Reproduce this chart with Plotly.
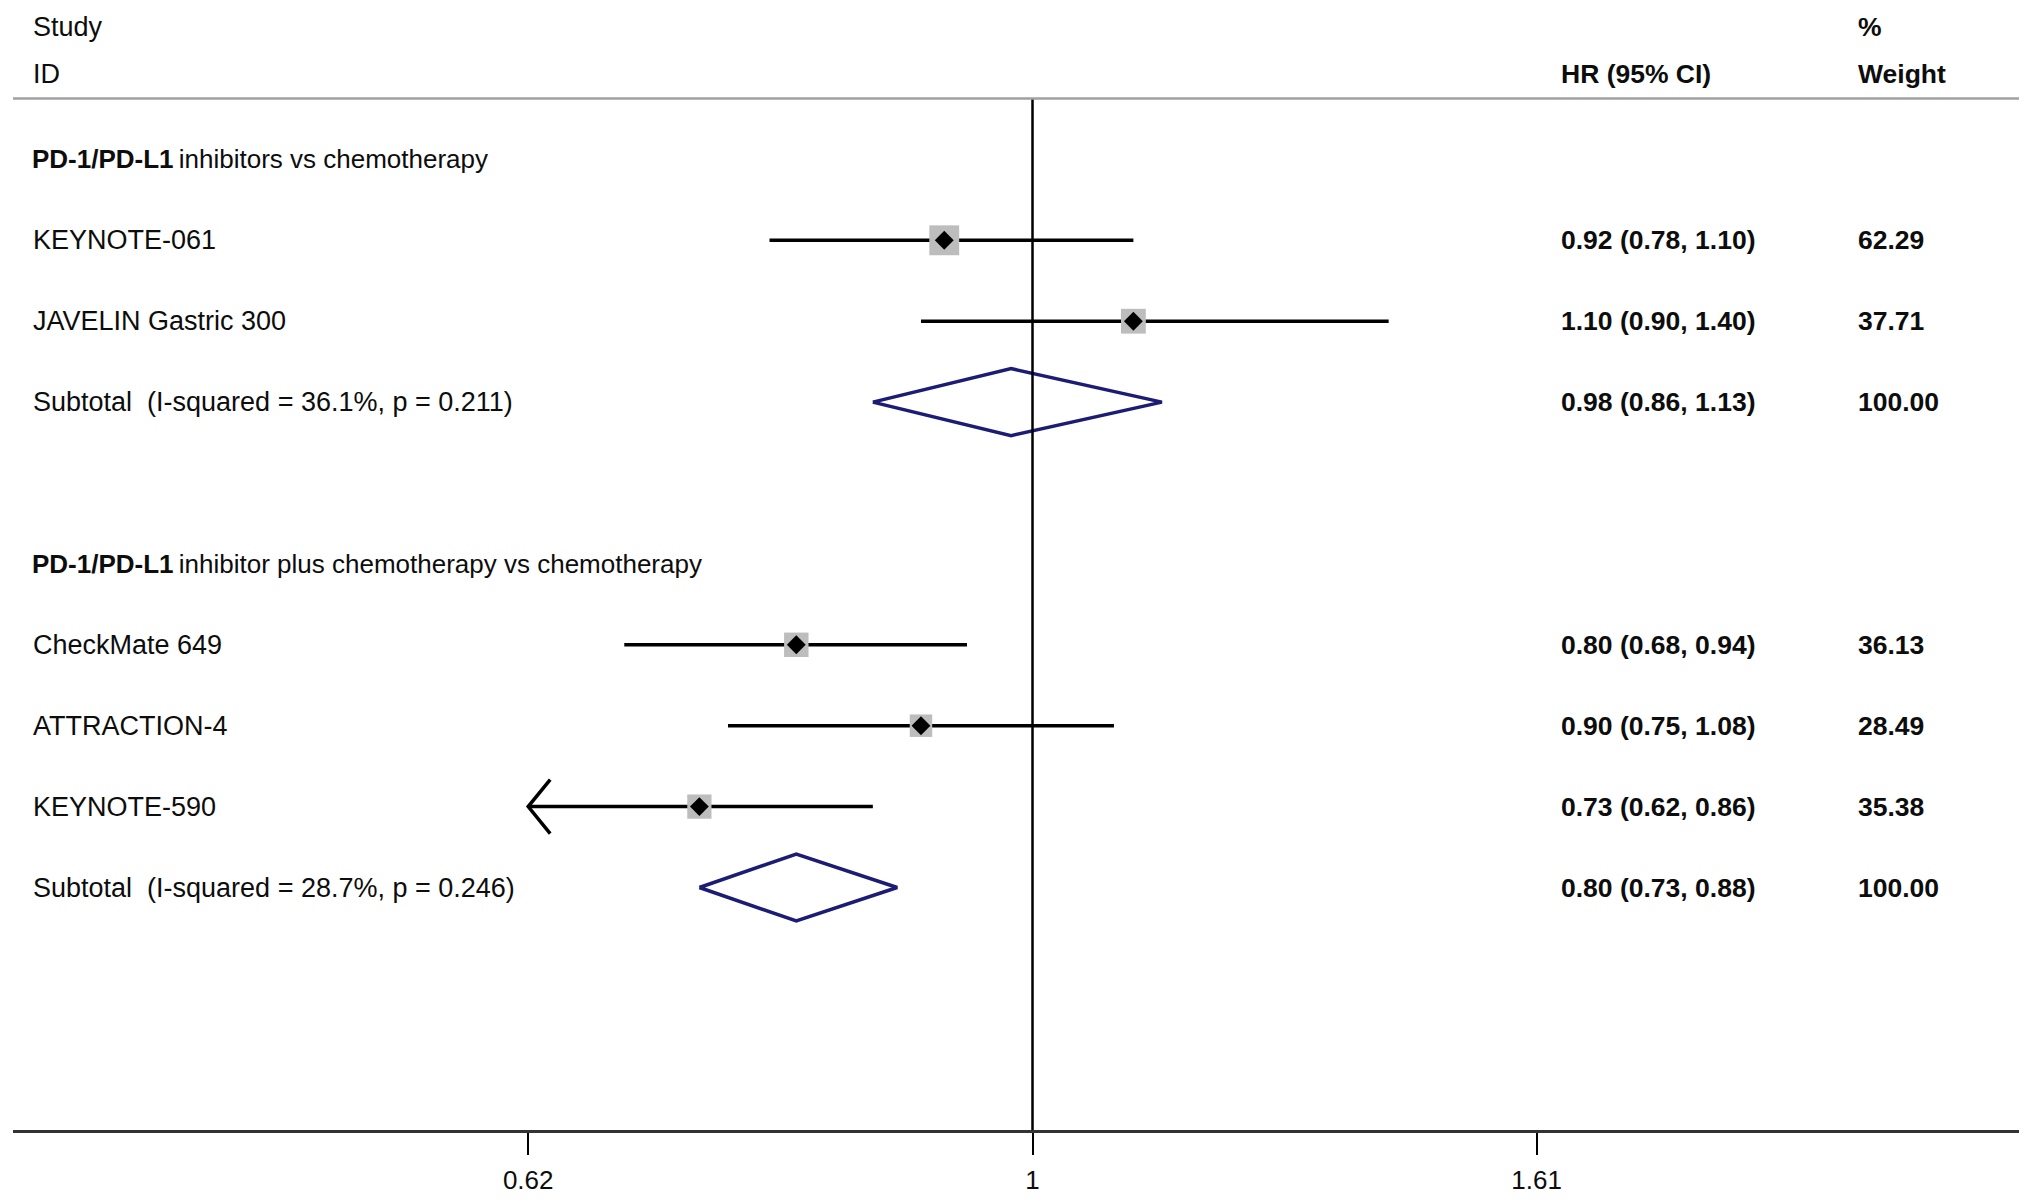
import math
import plotly.graph_objects as go

# ---------------- data ----------------
group_prefix = "PD-1/PD-L1"
group_titles = ["inhibitors vs chemotherapy", "inhibitor plus chemotherapy vs chemotherapy"]
studies = ["KEYNOTE-061", "JAVELIN Gastric 300", "CheckMate 649", "ATTRACTION-4", "KEYNOTE-590"]
study_group = [0, 0, 1, 1, 1]
hr = [0.92, 1.10, 0.80, 0.90, 0.73]
ci_low = [0.78, 0.90, 0.68, 0.75, 0.62]
ci_high = [1.10, 1.40, 0.94, 1.08, 0.86]
weight = [62.29, 37.71, 36.13, 28.49, 35.38]
sub_hr = [0.98, 0.80]
sub_low = [0.86, 0.73]
sub_high = [1.13, 0.88]
sub_i2 = [36.1, 28.7]
sub_p = [0.211, 0.246]
sub_weight = [100.00, 100.00]
tick_vals = [0.621, 1, 1.61]
tick_text = ["0.62", "1", "1.61"]

# ---------------- geometry (window pixels; the page body has an 8px margin) ----------------
OFF = 8
W, H = 2032 - 2 * OFF, 1204 - 2 * OFF
ML = 13 - OFF                 # plot left edge at window x 13
MR = W - (2019 - OFF)         # plot right edge at window x 2019
MT = 0
AXIS_Y = 1130 - OFF           # axis line at window y 1130
MB = H - AXIS_Y
PX_ONE = 1032.5 - OFF         # pixel of HR = 1
PX_PER_LN = 1058.5            # pixels per natural-log unit
ROW1_PX = 159.4 - OFF
ROW_H = 80.9
LN10 = math.log(10)
x_range = [(ML - PX_ONE) / PX_PER_LN / LN10, (W - MR - PX_ONE) / PX_PER_LN / LN10]
y_top = 1 - (ROW1_PX - MT) / ROW_H
y_bot = 1 + (AXIS_Y - ROW1_PX) / ROW_H
PW = W - ML - MR


def xp(px_window):
    return (px_window - OFF - ML) / PW


def yrow(py_window):
    return 1 + (py_window - OFF - ROW1_PX) / ROW_H


FONT = "Liberation Sans, Arial, sans-serif"
LABEL_SIZE = 27
NUM_SIZE = 26.5
HEAD_SIZE = 26
X_LABEL = 31
X_HR = 1559
X_W = 1856
NAVY = "#1c1c74"
TXT = "#0d0d0d"

fig = go.Figure()
ann = []


def text(x_px, y, s, size=LABEL_SIZE, bold=False):
    ann.append(dict(x=xp(x_px), xref="paper", y=y, yref="y", text=(f"<b>{s}</b>" if bold else s),
                    showarrow=False, xanchor="left", yanchor="middle",
                    font=dict(family=FONT, size=size, color=TXT)))


# header
text(X_LABEL, yrow(27), "Study")
text(X_LABEL, yrow(74), "ID")
text(X_HR, yrow(74), "HR (95% CI)", NUM_SIZE, True)
text(X_W, yrow(27), "%", NUM_SIZE, True)
text(X_W, yrow(74), "Weight", NUM_SIZE, True)
header_row = yrow(98.5)

xmin = tick_vals[0]
row = 1
for g in range(len(group_titles)):
    ann.append(dict(x=xp(30), xref="paper", y=row, yref="y",
                    text=f"<b>{group_prefix}</b>\u2009{group_titles[g]}",
                    showarrow=False, xanchor="left", yanchor="middle",
                    font=dict(family=FONT, size=HEAD_SIZE, color=TXT)))
    row += 1
    for i, s in enumerate(studies):
        if study_group[i] != g:
            continue
        lo = max(ci_low[i], xmin)
        fig.add_trace(go.Scatter(x=[lo, ci_high[i]], y=[row, row], mode="lines",
                                 line=dict(color="black", width=3.5), hoverinfo="skip"))
        if ci_low[i] < xmin:
            ax = xmin * math.exp(22 / PX_PER_LN)
            dy = 27 / ROW_H
            fig.add_trace(go.Scatter(x=[ax, xmin, ax], y=[row - dy, row, row + dy], mode="lines",
                                     line=dict(color="black", width=3.5), hoverinfo="skip"))
        fig.add_trace(go.Scatter(x=[hr[i]], y=[row], mode="markers",
                                 marker=dict(symbol="square", size=7 + 2.9 * math.sqrt(weight[i]),
                                             color="#bdbdbd", line=dict(width=0)), hoverinfo="skip"))
        fig.add_trace(go.Scatter(x=[hr[i]], y=[row], mode="markers",
                                 marker=dict(symbol="diamond", size=14.5, color="black",
                                             line=dict(width=0)), hoverinfo="skip"))
        text(X_LABEL, row, s)
        text(X_HR, row, f"{hr[i]:.2f} ({ci_low[i]:.2f}, {ci_high[i]:.2f})", NUM_SIZE, True)
        text(X_W, row, f"{weight[i]:.2f}", NUM_SIZE, True)
        row += 1
    # subtotal diamond
    hh = 33.5 / ROW_H
    fig.add_trace(go.Scatter(x=[sub_low[g], sub_hr[g], sub_high[g], sub_hr[g], sub_low[g]],
                             y=[row, row - hh, row, row + hh, row], mode="lines",
                             line=dict(color=NAVY, width=3.5), hoverinfo="skip"))
    text(X_LABEL, row, f"Subtotal\u00a0 (I-squared = {sub_i2[g]:.1f}%, p = {sub_p[g]:.3f})")
    text(X_HR, row, f"{sub_hr[g]:.2f} ({sub_low[g]:.2f}, {sub_high[g]:.2f})", NUM_SIZE, True)
    text(X_W, row, f"{sub_weight[g]:.2f}", NUM_SIZE, True)
    row += 2

# reference line at HR = 1
fig.add_trace(go.Scatter(x=[1, 1], y=[header_row, y_bot], mode="lines",
                         line=dict(color="black", width=2.5), hoverinfo="skip"))

shapes = [dict(type="line", xref="paper", yref="y", x0=0, x1=1, y0=header_row, y1=header_row,
               line=dict(color="#a0a0a0", width=2.5))]

fig.update_layout(
    width=W, height=H,
    margin=dict(l=ML, r=MR, t=MT, b=MB, pad=0),
    paper_bgcolor="white", plot_bgcolor="white",
    showlegend=False,
    annotations=ann,
    shapes=shapes,
    xaxis=dict(type="log", range=x_range, tickvals=tick_vals, ticktext=tick_text,
               showgrid=False, zeroline=False, showline=True, linecolor="#333333", linewidth=3,
               ticks="outside", ticklen=22, tickwidth=2, tickcolor="black",
               tickfont=dict(family=FONT, size=26, color=TXT), ticklabelstandoff=3,
               fixedrange=True),
    yaxis=dict(range=[y_bot, y_top], visible=False, showgrid=False, zeroline=False, fixedrange=True),
)

fig.write_html("out.html", config={"displayModeBar": False})
